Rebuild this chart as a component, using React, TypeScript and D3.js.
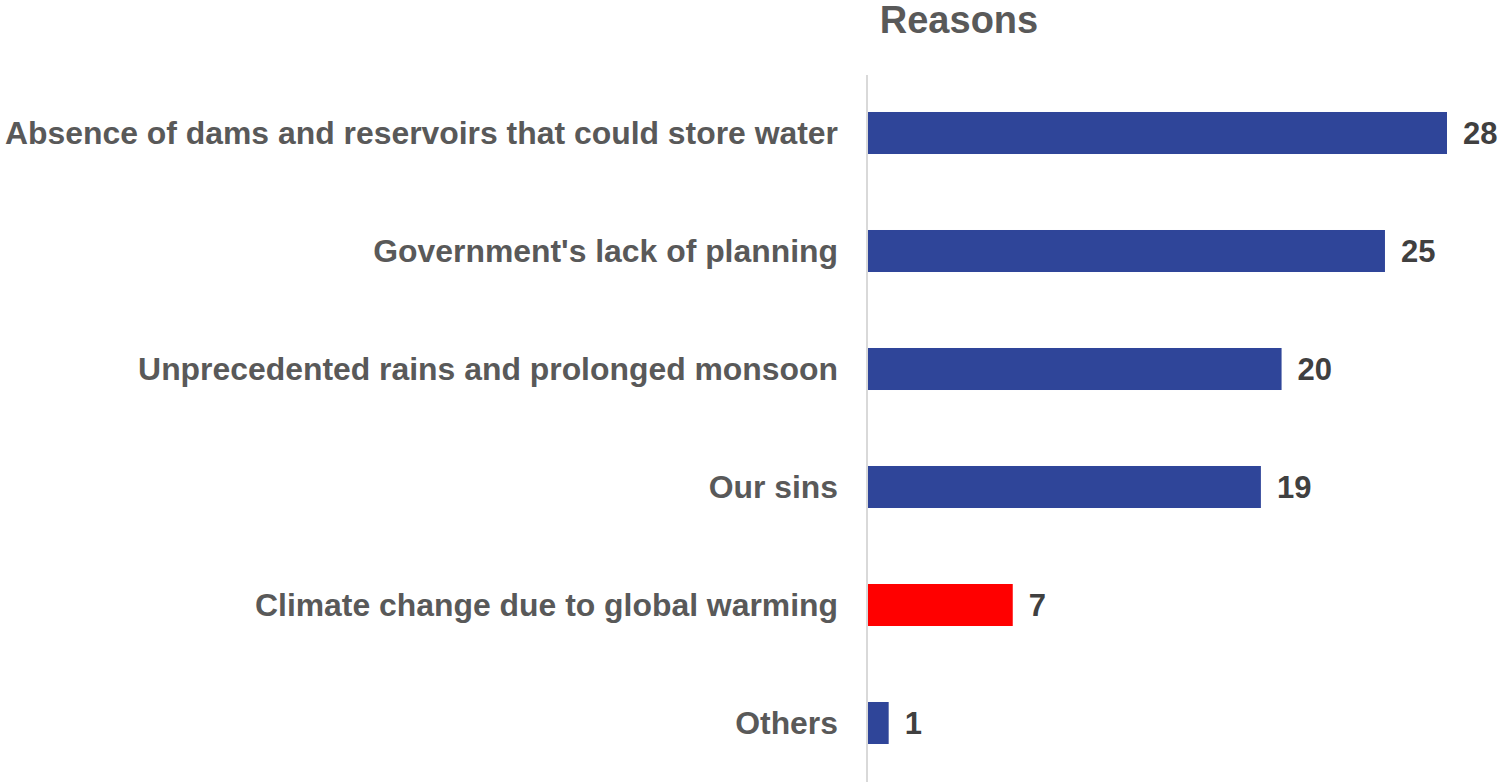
import React from "react";
import * as d3 from "d3";

const categories = [
  "Absence of dams and reservoirs that could store water",
  "Government's lack of planning",
  "Unprecedented rains and prolonged monsoon",
  "Our sins",
  "Climate change due to global warming",
  "Others",
];
const values = [28, 25, 20, 19, 7, 1];
const highlight = ["Climate change due to global warming"];
const title = "Reasons";

const W = 1503;
const H = 782;
const FONT = "'Liberation Sans', Arial, Helvetica, sans-serif";

export default function App() {
  const x = d3.scaleLinear().domain([0, 28]).range([868, 1447]);
  const y = d3
    .scaleBand<string>()
    .domain(categories)
    .range([74, 782])
    .paddingInner(0.644)
    .paddingOuter(0.322);
  const bw = y.bandwidth();
  return (
    <svg
      width={W}
      height={H}
      style={{ position: "absolute", left: 0, top: 0, background: "#fff" }}
    >
      <text
        x={959}
        y={33}
        textAnchor="middle"
        fontFamily={FONT}
        fontWeight="bold"
        fontSize={38}
        fill="#595959"
      >
        {title}
      </text>
      {categories.map((c, i) => {
        const yc = (y(c) as number) + bw / 2;
        return (
          <g key={c}>
            <rect
              x={x(0)}
              y={y(c)}
              width={x(values[i]) - x(0)}
              height={bw}
              fill={highlight.includes(c) ? "#FF0000" : "#2F4599"}
            />
            <text
              x={838}
              y={yc}
              dy="0.35em"
              textAnchor="end"
              fontFamily={FONT}
              fontWeight="bold"
              fontSize={31.9}
              fill="#595959"
            >
              {c}
            </text>
            <text
              x={x(values[i]) + 16}
              y={yc}
              dy="0.35em"
              fontFamily={FONT}
              fontWeight="bold"
              fontSize={31}
              fill="#404040"
            >
              {values[i]}
            </text>
          </g>
        );
      })}
      <line x1={867} x2={867} y1={75} y2={782} stroke="#D9D9D9" strokeWidth={2} />
    </svg>
  );
}
